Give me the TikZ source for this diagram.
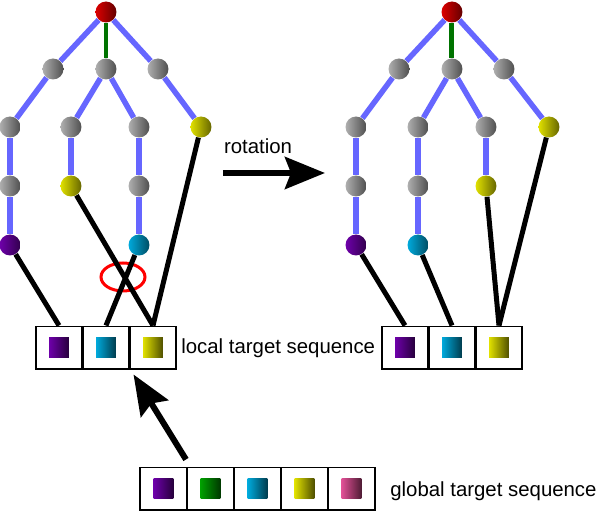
\documentclass[tikz,border=0pt]{standalone}
\usepackage{fontspec}
\setmainfont{Liberation Sans}
\usetikzlibrary{arrows.meta,shapes.geometric,positioning}

\definecolor{treeblue}{RGB}{102,102,255}
\definecolor{stemgreen}{RGB}{0,115,0}
\definecolor{tpurple}{RGB}{110,0,170}
\definecolor{tgreen}{RGB}{0,160,0}
\definecolor{tcyan}{RGB}{0,170,220}
\definecolor{tyellow}{RGB}{225,225,0}
\definecolor{tpink}{RGB}{225,80,150}
\definecolor{troot}{RGB}{220,0,0}
\definecolor{tgray}{RGB}{175,175,175}

\tikzset{
  ball/.style={circle, inner sep=0pt, minimum size=0.42cm, left color=#1, right color=#1!45!black},
  branch/.style={treeblue, line width=0.11cm},
  stem/.style={stemgreen, line width=0.1cm},
  link/.style={black, line width=0.1cm},
  cell/.style={draw, line width=0.04cm, minimum width=0.94cm, minimum height=0.86cm, inner sep=0pt},
  chip/.style={minimum size=0.4cm, inner sep=0pt, left color=#1, right color=#1!35!black},
  bigarrow/.style={line width=0.12cm, -{Stealth[length=0.8cm,width=0.64cm,inset=0.12cm]}},
  label/.style={font=\fontsize{11.6}{14}\selectfont}
}

\begin{document}
\begin{tikzpicture}[x=0.02cm, y=-0.02cm]
  \useasboundingbox (0,0) rectangle (600,513);

  % left tree
  \node (lroot) at (106,12) [ball=troot] {};
  \node (la1) at (53,69) [ball=tgray] {};
  \node (la2) at (106,69) [ball=tgray] {};
  \node (la3) at (158,69) [ball=tgray] {};
  \node (lb1) at (10,127) [ball=tgray] {};
  \node (lb2) at (71,127) [ball=tgray] {};
  \node (lb3) at (139,127) [ball=tgray] {};
  \node (lb4) at (201,127) [ball=tyellow] {};
  \node (lc1) at (10,186) [ball=tgray] {};
  \node (lc2) at (71,186) [ball=tyellow] {};
  \node (lc3) at (139,186) [ball=tgray] {};
  \node (ld1) at (10,245) [ball=tpurple] {};
  \node (ld3) at (139,245) [ball=tcyan] {};

  \draw [branch] (lroot) -- (la1);
  \draw [stem] (lroot) -- (la2);
  \draw [branch] (lroot) -- (la3);
  \draw [branch] (la1) -- (lb1);
  \draw [branch] (la2) -- (lb2);
  \draw [branch] (la2) -- (lb3);
  \draw [branch] (la3) -- (lb4);
  \draw [branch] (lb1) -- (lc1);
  \draw [branch] (lc1) -- (ld1);
  \draw [branch] (lb2) -- (lc2);
  \draw [branch] (lb3) -- (lc3);
  \draw [branch] (lc3) -- (ld3);

  % local target sequence (left)
  \node (l1) at (59,348) [cell] {};
  \node (l2) at (106,348) [cell] {};
  \node (l3) at (153,348) [cell] {};
  \node at (l1) [chip=tpurple] {};
  \node at (l2) [chip=tcyan] {};
  \node at (l3) [chip=tyellow] {};
  \node (localtxt) at (181,348) [label, anchor=west, inner sep=0pt] {local target sequence};

  \node (cross) at (123,277) [draw=red, line width=0.06cm, ellipse, minimum width=0.88cm, minimum height=0.56cm, inner sep=0pt] {};

  \draw [link] (ld1) -- (l1.north);
  \draw [link] (lc2) -- (l3.north);
  \draw [link] (ld3) -- (l2.north);
  \draw [link] (lb4) -- (l3.north);

  % rotation
  \coordinate (rotstart) at (223,173);
  \coordinate (rotend) at (325,173);
  \draw [bigarrow] (rotstart) -- (rotend);
  \node (rottxt) at (258,146) [label] {rotation};

  % right tree
  \node (rroot) at (452,12) [ball=troot] {};
  \node (ra1) at (399,69) [ball=tgray] {};
  \node (ra2) at (452,69) [ball=tgray] {};
  \node (ra3) at (504,69) [ball=tgray] {};
  \node (rb1) at (356,127) [ball=tgray] {};
  \node (rb2) at (418,127) [ball=tgray] {};
  \node (rb3) at (486,127) [ball=tgray] {};
  \node (rb4) at (549,127) [ball=tyellow] {};
  \node (rc1) at (356,186) [ball=tgray] {};
  \node (rc2) at (418,186) [ball=tgray] {};
  \node (rc3) at (486,186) [ball=tyellow] {};
  \node (rd1) at (356,245) [ball=tpurple] {};
  \node (rd2) at (418,245) [ball=tcyan] {};

  \draw [branch] (rroot) -- (ra1);
  \draw [stem] (rroot) -- (ra2);
  \draw [branch] (rroot) -- (ra3);
  \draw [branch] (ra1) -- (rb1);
  \draw [branch] (ra2) -- (rb2);
  \draw [branch] (ra2) -- (rb3);
  \draw [branch] (ra3) -- (rb4);
  \draw [branch] (rb1) -- (rc1);
  \draw [branch] (rc1) -- (rd1);
  \draw [branch] (rb2) -- (rc2);
  \draw [branch] (rc2) -- (rd2);
  \draw [branch] (rb3) -- (rc3);

  % local target sequence (right)
  \node (r1) at (405,348) [cell] {};
  \node (r2) at (452,348) [cell] {};
  \node (r3) at (499,348) [cell] {};
  \node at (r1) [chip=tpurple] {};
  \node at (r2) [chip=tcyan] {};
  \node at (r3) [chip=tyellow] {};

  \draw [link] (rd1) -- (r1.north);
  \draw [link] (rd2) -- (r2.north);
  \draw [link] (rc3) -- (r3.north);
  \draw [link] (rb4) -- (r3.north);

  % global target sequence
  \node (g1) at (163.5,489) [cell] {};
  \node (g2) at (210.5,489) [cell] {};
  \node (g3) at (257.5,489) [cell] {};
  \node (g4) at (304.5,489) [cell] {};
  \node (g5) at (351.5,489) [cell] {};
  \node at (g1) [chip=tpurple] {};
  \node at (g2) [chip=tgreen] {};
  \node at (g3) [chip=tcyan] {};
  \node at (g4) [chip=tyellow] {};
  \node at (g5) [chip=tpink] {};
  \node (globaltxt) at (390,491) [label, anchor=west, inner sep=0pt] {global target sequence};

  \draw [bigarrow] ([shift={(-2,-7)}]g1.north east) -- ([shift={(3,4)}]l2.south east);
\end{tikzpicture}
\end{document}
